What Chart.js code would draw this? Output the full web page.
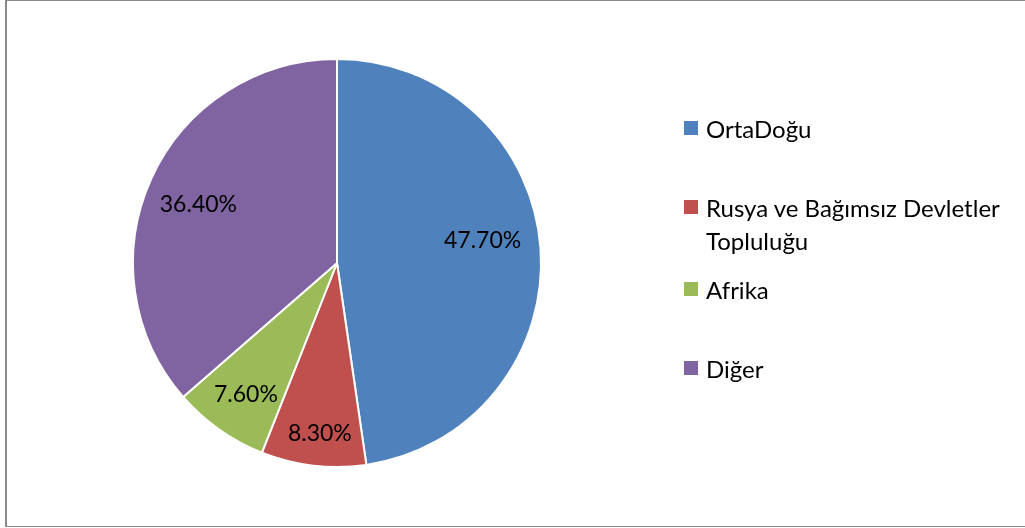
<!DOCTYPE html>
<html>
<head>
<meta charset="utf-8">
<script src="https://cdn.jsdelivr.net/npm/chart.js@4/dist/chart.umd.min.js"></script>
<style>
  body { margin: 0; width: 1025px; height: 528px; overflow: hidden; background: #fff; font-family: Lato, "Liberation Sans", sans-serif; }
  #frame { position: absolute; left: 5px; top: 0; width: 1040px; height: 525px; border: 1px solid #8a8a8a; border-left-width: 2px; }
  #pie { position: absolute; left: 0; top: 0; }
  #legend { position: absolute; left: 684px; top: 0; width: 340px; }
  .item { position: absolute; left: 0; width: 340px; font-size: 24px; line-height: 33px; color: #000; }
  .item .box { position: absolute; left: 0; top: 9px; width: 14px; height: 14px; }
  .item .txt { margin-left: 22px; display: block; }
  .item:nth-child(1) { top: 112px; }
  .item:nth-child(2) { top: 191px; }
  .item:nth-child(3) { top: 273px; }
  .item:nth-child(4) { top: 352px; }
</style>
</head>
<body>
<div id="frame"></div>
<canvas id="pie" width="1025" height="528"></canvas>
<div id="legend"></div>
<script>
// slice names and their shares (percent) //
const regions = ["OrtaDoğu", "Rusya ve Bağımsız Devletler Topluluğu", "Afrika", "Diğer"];
const shares = [47.7, 8.3, 7.6, 36.4];
const sliceColors = ["#4F81BD", "#C0504D", "#9BBB59", "#8064A2"];

// where each percent label sits inside its slice //
const labelRadius = [0.722, 0.838, 0.785, 0.737];
const labelTurn = [-4.6, -0.9, -0.6, -1.7];

// html legend, so the long name can wrap like the original //
const legend = document.getElementById("legend");
regions.forEach(function (name, i) {
  const item = document.createElement("div");
  item.className = "item";
  item.innerHTML = '<span class="box" style="background:' + sliceColors[i] + '"></span><span class="txt">' + name + "</span>";
  legend.appendChild(item);
});

// draws the percent text on each slice //
const sliceLabels = {
  id: "sliceLabels",
  afterDatasetsDraw(chart) {
    const ctx = chart.ctx;
    const meta = chart.getDatasetMeta(0);
    ctx.save();
    ctx.font = "23px Lato, 'Liberation Sans', sans-serif";
    ctx.fillStyle = "#000";
    ctx.textAlign = "center";
    ctx.textBaseline = "middle";
    meta.data.forEach(function (arc, i) {
      const mid = (arc.startAngle + arc.endAngle) / 2 + labelTurn[i] * Math.PI / 180;
      const r = arc.outerRadius * labelRadius[i];
      ctx.fillText(shares[i].toFixed(2) + "%", arc.x + Math.cos(mid) * r, arc.y + Math.sin(mid) * r);
    });
    ctx.restore();
  }
};

new Chart(document.getElementById("pie"), {
  type: "pie",
  data: {
    labels: regions,
    datasets: [{
      data: shares,
      backgroundColor: sliceColors,
      borderColor: "#ffffff",
      borderWidth: 2
    }]
  },
  options: {
    responsive: false,
    devicePixelRatio: 1,
    animation: false,
    radius: 204,
    layout: { padding: { left: 120, right: 471, top: 50, bottom: 52 } },
    plugins: {
      legend: { display: false },
      tooltip: { enabled: false }
    }
  },
  plugins: [sliceLabels]
});
</script>
</body>
</html>
